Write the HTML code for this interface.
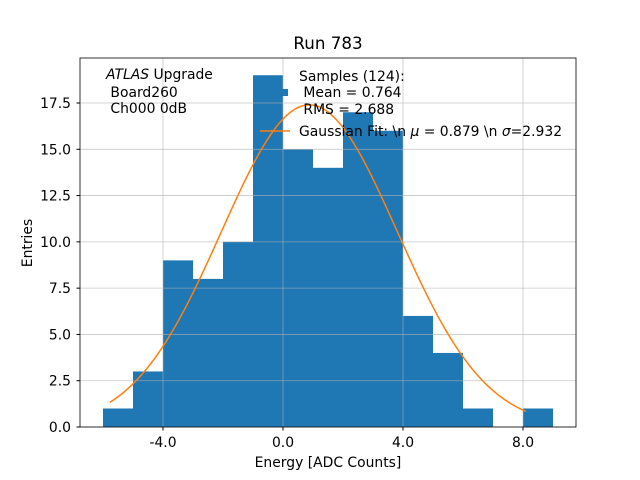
<!DOCTYPE html>
<html><head><meta charset="utf-8"><style>
body{margin:0;background:#fff;}
svg{display:block;font-family:"DejaVu Sans","Liberation Sans",sans-serif;}
</style></head><body>
<svg id="chart" width="640" height="480">
<rect x="0" y="0" width="640" height="480" fill="#fff"/>
<g id="bars"></g>
<g id="grid"></g>
<path id="fit" fill="none" stroke="#ff7f0e" stroke-width="1.5"/>
<rect x="80" y="58" width="496" height="369" fill="none" stroke="#000" stroke-width="0.8"/>
<g id="ticks" font-size="13.9" fill="#000"></g>
<text x="328" y="49" text-anchor="middle" font-size="16.7">Run 783</text>
<text x="328" y="467" text-anchor="middle" font-size="13.9">Energy [ADC Counts]</text>
<text transform="translate(32,243) rotate(-90)" text-anchor="middle" font-size="13.9">Entries</text>
<g font-size="13.9">
<text x="106" y="79"><tspan font-style="italic">ATLAS</tspan> Upgrade</text>
<text x="106" y="97" xml:space="preserve"> Board260</text>
<text x="106" y="113" xml:space="preserve"> Ch000 0dB</text>
</g>
<g font-size="13.9">
<rect x="281" y="89" width="7" height="7" fill="#1f77b4"/>
<text x="299" y="81">Samples (124):</text>
<text x="299" y="97" xml:space="preserve"> Mean = 0.764</text>
<text x="299" y="114" xml:space="preserve"> RMS = 2.688</text>
<line x1="260" y1="131" x2="290" y2="131" stroke="#ff7f0e" stroke-width="1.5"/>
<text x="299" y="136">Gaussian Fit: \n <tspan font-style="italic">μ</tspan> = 0.879 \n <tspan font-style="italic">σ</tspan>=2.932</text>
</g>
</svg>
<script>
const binEdges=[-6,-5,-4,-3,-2,-1,0,1,2,3,4,5,6,7,8];
const counts=[1,3,9,8,10,19,15,14,17,16,6,4,1,0,1];
const xTicks=[-4,0,4,8];
const xTickLabels=["-4.0","0.0","4.0","8.0"];
const yTicks=[0,2.5,5,7.5,10,12.5,15,17.5];
const yTickLabels=["0.0","2.5","5.0","7.5","10.0","12.5","15.0","17.5"];
const fitMu=0.879, fitSigma=2.932, fitAmp=17.4, fitRange=[-5.77,8.1];
const NS="http://www.w3.org/2000/svg";
const X=v=>283+v*30, Y=v=>427-v*18.514;
const bars=document.getElementById('bars');
binEdges.forEach((e,i)=>{
 if(!counts[i])return;
 const r=document.createElementNS(NS,'rect');
 r.setAttribute('x',X(e));r.setAttribute('width',30);
 r.setAttribute('y',Y(counts[i]));r.setAttribute('height',Y(0)-Y(counts[i]));
 r.setAttribute('fill','#1f77b4');
 
 
 bars.appendChild(r);
});
const grid=document.getElementById('grid'),ticks=document.getElementById('ticks');
xTicks.forEach((t,i)=>{
 const l=document.createElementNS(NS,'line');
 l.setAttribute('x1',X(t));l.setAttribute('x2',X(t));l.setAttribute('y1',58);l.setAttribute('y2',427);
 l.setAttribute('stroke','#b0b0b0');l.setAttribute('stroke-opacity','0.7');l.setAttribute('stroke-width','0.8');
 
 
 grid.appendChild(l);
 const tk=document.createElementNS(NS,'line');
 tk.setAttribute('x1',X(t));tk.setAttribute('x2',X(t));tk.setAttribute('y1',427);tk.setAttribute('y2',430.5);tk.setAttribute('stroke','#000');
 
 
 ticks.appendChild(tk);
 const tx=document.createElementNS(NS,'text');
 tx.setAttribute('x',X(t));tx.setAttribute('y',447);tx.setAttribute('text-anchor','middle');tx.textContent=xTickLabels[i];
 
 
 ticks.appendChild(tx);
});
yTicks.forEach((t,i)=>{
 const l=document.createElementNS(NS,'line');
 l.setAttribute('x1',80);l.setAttribute('x2',576);l.setAttribute('y1',Y(t));l.setAttribute('y2',Y(t));
 l.setAttribute('stroke','#b0b0b0');l.setAttribute('stroke-opacity','0.7');l.setAttribute('stroke-width','0.8');
 
 
 grid.appendChild(l);
 const tk=document.createElementNS(NS,'line');
 tk.setAttribute('x1',76.5);tk.setAttribute('x2',80);tk.setAttribute('y1',Y(t));tk.setAttribute('y2',Y(t));tk.setAttribute('stroke','#000');
 
 
 ticks.appendChild(tk);
 const tx=document.createElementNS(NS,'text');
 tx.setAttribute('x',71);tx.setAttribute('y',Y(t)+5);tx.setAttribute('text-anchor','end');tx.textContent=yTickLabels[i];
 
 
 ticks.appendChild(tx);
});
let d='';
for(let k=0;k<=200;k++){
 const x=fitRange[0]+(fitRange[1]-fitRange[0])*k/200;
 const y=fitAmp*Math.exp(-Math.pow(x-fitMu,2)/(2*fitSigma*fitSigma));
 d+=(k?'L':'M')+X(x).toFixed(2)+','+Y(y).toFixed(2);
}
document.getElementById('fit').setAttribute('d',d);
</script>
</body></html>
